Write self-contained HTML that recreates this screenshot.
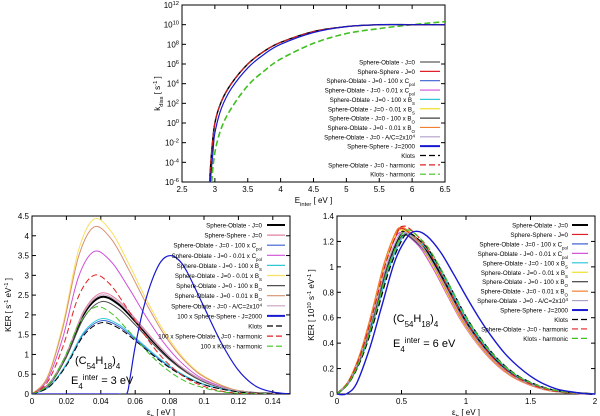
<!DOCTYPE html>
<html><head><meta charset="utf-8"><style>
html,body{margin:0;padding:0;background:#fff;width:600px;height:416px;overflow:hidden}
svg{position:absolute;left:0;top:0;font-family:"Liberation Sans",sans-serif}
</style></head><body>
<svg id="c" width="600" height="416"></svg>
<script>
// ---------- DATA ----------
const topX_black=[2.92,2.95,3.0,3.1,3.25,3.5,3.75,4.0,4.5,5.0,5.5,6.0,6.5];
const topY_black=[-6,-3,0,2.2,4,6,7.3,8.2,9.3,9.8,10,10,10];
const topX_blue=[2.93,2.97,3.0,3.1,3.25,3.5,3.75,4.0,4.5,5.0,5.5,6.0,6.5];
const topY_blue=[-6,-3,-1,1.5,3.5,5.6,7,8,9.2,9.8,10,10,10];
const topX_green=[2.95,3.0,3.1,3.25,3.5,3.75,4.0,4.5,5.0,5.5,6.0,6.5];
const topY_green=[-6,-3,-0.5,1.5,3.8,5.3,6.5,8.1,9.1,9.6,10,10.3];
const topLegend=["Sphere-Oblate - J=0","Sphere-Sphere - J=0","Sphere-Oblate - J=0 - 100 x C_pol","Sphere-Oblate - J=0 - 0.01 x C_pol","Sphere-Oblate - J=0 - 100 x B_S","Sphere-Oblate - J=0 - 0.01 x B_S","Sphere-Oblate - J=0 - 100 x B_O","Sphere-Oblate - J=0 - 0.01 x B_O","Sphere-Oblate - J=0 - A/C=2x10^4","Sphere-Sphere - J=2000","Klots","Sphere-Oblate - J=0 - harmonic","Klots - harmonic"];
const leftShapeX=[0,0.01,0.02,0.03,0.04,0.05,0.06,0.07,0.08,0.09,0.10,0.11,0.12,0.13,0.14,0.15];
const leftShapeY=[0,0.1,0.4,0.82,1.0,0.93,0.75,0.55,0.37,0.23,0.13,0.07,0.03,0.01,0.002,0];
const leftPeaks=[2.45,2.55,1.85,3.6,1.9,4.42,2.33,4.22,2.5,0,1.8,3.0,2.2];
const leftBlueX=[0,0.02,0.04,0.05,0.055,0.057,0.06,0.065,0.07,0.075,0.08,0.085,0.09,0.10,0.11,0.12,0.13,0.14,0.15];
const leftBlueY=[0,0,0,0,0,0.4,1.2,2.2,2.9,3.35,3.5,3.4,3.1,2.2,1.3,0.6,0.2,0.05,0];
const leftLegend=["Sphere-Oblate - J=0","Sphere-Sphere - J=0","Sphere-Oblate - J=0 - 100 x C_pol","Sphere-Oblate - J=0 - 0.01 x C_pol","Sphere-Oblate - J=0 - 100 x B_S","Sphere-Oblate - J=0 - 0.01 x B_S","Sphere-Oblate - J=0 - 100 x B_O","Sphere-Oblate - J=0 - 0.01 x B_O","Sphere-Oblate - J=0 - A/C=2x10^4","100 x Sphere-Sphere - J=2000","Klots","100 x Sphere-Oblate - J=0 - harmonic","100 x Klots - harmonic"];
const rightShapeX=[0,0.1,0.2,0.3,0.4,0.5,0.55,0.6,0.7,0.8,0.9,1.0,1.1,1.2,1.3,1.4,1.5,1.6,1.7,1.8,1.9,2.0];
const rightShapeY=[0,0.08,0.25,0.5,0.78,0.97,1,0.98,0.9,0.77,0.62,0.47,0.35,0.25,0.17,0.11,0.07,0.04,0.02,0.01,0.004,0];
const rightPeaks=[1.28,1.3,1.26,1.27,1.26,1.29,1.25,1.31,1.27,0,1.26,1.32,1.29];
const rightPeakPos=[0.53,0.5,0.55,0.5,0.55,0.5,0.53,0.5,0.52,0,0.56,0.52,0.55];
const rightBlueX=[0,0.07,0.15,0.25,0.35,0.45,0.55,0.62,0.7,0.8,0.9,1.0,1.1,1.2,1.3,1.4,1.5,1.6,1.7,1.8,1.9,2.0];
const rightBlueY=[0,0,0.08,0.35,0.7,1.05,1.24,1.28,1.24,1.12,0.95,0.77,0.6,0.45,0.32,0.22,0.14,0.08,0.04,0.02,0.005,0];
const rightLegend=topLegend;
const seriesColors=["#000","#e0202a","#3a5fd0","#d050d8","#30c8d8","#f0e030","#404040","#f08030","#b0a0c8","#1818d0","#000","#e02020","#40c020"];
const seriesDash=[0,0,0,0,0,0,0,0,0,0,1,1,1];
const leftColors=["#000","#e080a0","#3a5fd0","#d050d8","#30c8d8","#f8e060","#505050","#d89070","#c8a0c0","#1818d0","#000","#e02020","#40c020"];

// ---------- DRAW ----------
const NS="http://www.w3.org/2000/svg";
const svg=document.getElementById('c');
function el(tag,attrs,parent){const e=document.createElementNS(NS,tag);for(const k in attrs)e.setAttribute(k,attrs[k]);(parent||svg).appendChild(e);return e;}
function txt(x,y,s,size,anchor,parent,name){
  const t=el('text',{x:x,y:y,'font-size':size,'text-anchor':anchor||'middle',fill:'#000'},parent);
  const parts=s.split(/(_\{[^}]*\}|\^\{[^}]*\}|_[A-Za-z]+|\^[0-9\-]+)/);
  parts.forEach(p=>{if(!p)return;const sp=document.createElementNS(NS,'tspan');
    let c=p.slice(1);if(c[0]=='{')c=c.slice(1,-1);
    if(p[0]=='_'){sp.setAttribute('baseline-shift','sub');sp.setAttribute('font-size',size*0.72);sp.textContent=c;}
    else if(p[0]=='^'){sp.setAttribute('baseline-shift','super');sp.setAttribute('font-size',size*0.72);sp.textContent=c;}
    else sp.textContent=p;t.appendChild(sp);});
  
  
  return t;}
function path(pts,color,w,dash,parent,name){
  let d='M'+pts[0][0].toFixed(1)+','+pts[0][1].toFixed(1);
  for(let i=0;i<pts.length-1;i++){
    const p0=pts[Math.max(0,i-1)],p1=pts[i],p2=pts[i+1],p3=pts[Math.min(pts.length-1,i+2)];
    const c1=[p1[0]+(p2[0]-p0[0])/6,p1[1]+(p2[1]-p0[1])/6],c2=[p2[0]-(p3[0]-p1[0])/6,p2[1]-(p3[1]-p1[1])/6];
    d+='C'+c1[0].toFixed(1)+','+c1[1].toFixed(1)+' '+c2[0].toFixed(1)+','+c2[1].toFixed(1)+' '+p2[0].toFixed(1)+','+p2[1].toFixed(1);}
  const p=el('path',{d:d,fill:'none',stroke:color,'stroke-width':w,'stroke-dasharray':dash?'6,3':'none','stroke-linejoin':'round'},parent);
  
  
  return p;}
function frame(x0,y0,x1,y1,name){
  const g=el('g',{});
  const r=el('rect',{x:x0,y:y0,width:x1-x0,height:y1-y0,fill:'none',stroke:'#000','stroke-width':1},g);
  
  return g;}
function legend(g,labels,colors,dashes,xTextRight,x0,x1,y0,dy,size){
  labels.forEach((l,i)=>{const y=y0+i*dy;
    txt(xTextRight,y+2.5,l,size,'end',g,'legend-label');
    const ln=el('line',{x1:x0,y1:y,x2:x1,y2:y,stroke:colors[i],'stroke-width':(i==0||i==9)?2:1.2,'stroke-dasharray':dashes[i]?'6,3':'none'},g);
    });}

// ===== Top plot =====
(function(){
  const X0=182,X1=445,Y0=5,Y1=182;
  const sx=v=>X0+(v-2.5)/4*(X1-X0), sy=v=>Y1-(v+6)/18*(Y1-Y0);
  const g=frame(X0,Y0,X1,Y1,'top-plot');
  for(let v=2.5;v<=6.5001;v+=0.5){const x=sx(v);el('line',{x1:x,y1:Y1,x2:x,y2:Y1-4,stroke:'#000'},g);el('line',{x1:x,y1:Y0,x2:x,y2:Y0+4,stroke:'#000'},g);
    txt(x,Y1+10,String(+v.toFixed(1)),8,'middle',g,'x-tick-label');}
  for(let v=-6;v<=12;v+=2){const y=sy(v);el('line',{x1:X0,y1:y,x2:X0+4,y2:y,stroke:'#000'},g);el('line',{x1:X1,y1:y,x2:X1-4,y2:y,stroke:'#000'},g);
    txt(X0-3,y+3,'10^{'+v+'}',8,'end',g,'y-tick-label');}
  txt((X0+X1)/2,Y1+21,'E_{inter}  [ eV ]',8,'middle',g,'x-axis-title');
  const yt=txt(0,0,'k_{diss}  [ s^{-1} ]',8,'middle',g,'y-axis-title');yt.setAttribute('transform','translate(160,'+((Y0+Y1)/2)+') rotate(-90)');
  const cl=el('clipPath',{id:'ct'});el('rect',{x:X0,y:Y0,width:X1-X0,height:Y1-Y0},cl);
  const pg=el('g',{'clip-path':'url(#ct)'},g);
  const mk=(xs,ys)=>xs.map((x,i)=>[sx(x),sy(ys[i])]);
  path(mk(topX_green,topY_green),'#40c020',1.6,1,pg,'series-klots-harmonic');
  path(mk(topX_black,topY_black),'#f08030',1,0,pg,'series-sphere-oblate-variants');
  path(mk(topX_black,topY_black),'#000',1.4,0,pg,'series-sphere-oblate-j0');
  path(mk(topX_black,topY_black),'#e02020',1,1,pg,'series-harmonic');
  path(mk(topX_blue,topY_blue),'#1818d0',1.2,0,pg,'series-sphere-sphere-j2000');
  legend(g,topLegend,["#999"].concat(seriesColors.slice(1)),seriesDash,415,420,440,62,9.35,6.2);
})();

// ===== Bottom-left =====
(function(){
  const X0=32,X1=290,Y0=216,Y1=394;
  const sx=v=>X0+v/0.15*(X1-X0), sy=v=>Y1-v/4.5*(Y1-Y0);
  const g=frame(X0,Y0,X1,Y1,'bottom-left-plot');
  for(let i=0;i<=7;i++){const v=i*0.02,x=sx(v);el('line',{x1:x,y1:Y1,x2:x,y2:Y1-4,stroke:'#000'},g);el('line',{x1:x,y1:Y0,x2:x,y2:Y0+4,stroke:'#000'},g);
    txt(x,Y1+10,String(+v.toFixed(2)),8,'middle',g,'x-tick-label');}
  for(let i=0;i<=9;i++){const v=i*0.5,y=sy(v);el('line',{x1:X0,y1:y,x2:X0+4,y2:y,stroke:'#000'},g);el('line',{x1:X1,y1:y,x2:X1-4,y2:y,stroke:'#000'},g);
    txt(X0-3,y+3,String(v),8,'end',g,'y-tick-label');}
  txt((X0+X1)/2,Y1+21,'ε_{tr}  [ eV ]',8,'middle',g,'x-axis-title');
  const yt=txt(0,0,'KER [ s^{-1} eV^{-1} ]',8,'middle',g,'y-axis-title');yt.setAttribute('transform','translate(11,'+((Y0+Y1)/2)+') rotate(-90)');
  const cl=el('clipPath',{id:'cl'});el('rect',{x:X0,y:Y0,width:X1-X0,height:Y1-Y0},cl);
  const pg=el('g',{'clip-path':'url(#cl)'},g);
  leftPeaks.forEach((pk,i)=>{if(i==9)return;
    const shift=pk>2.6?-0.004:(i==12?-0.003:0);
    const decay=(i==12||i==11)?0.9:1;
    const pts=leftShapeX.map((x,j)=>{const xx=x<=0.04?x*(0.04+shift)/0.04:(0.04+shift)+(x-0.04)*decay;return [sx(xx),sy(leftShapeY[j]*pk)];});
    path(pts,leftColors[i],(i==0)?2:1,seriesDash[i],pg,'series-'+i);});
  path(leftBlueX.map((x,j)=>[sx(x),sy(leftBlueY[j])]),'#1818d0',1.2,0,pg,'series-sphere-sphere-j2000');
  legend(g,leftLegend,leftColors,seriesDash,262,267,285,225,10.1,6.2);
  txt(75,364,'(C_{54}H_{18})_{4}',11,'start',g,'molecule-annotation');
  txt(71,384,'E_{4}^{inter} = 3 eV',11,'start',g,'energy-annotation');
})();

// ===== Bottom-right =====
(function(){
  const X0=337,X1=595,Y0=216,Y1=394;
  const sx=v=>X0+v/2*(X1-X0), sy=v=>Y1-v/1.4*(Y1-Y0);
  const g=frame(X0,Y0,X1,Y1,'bottom-right-plot');
  for(let i=0;i<=4;i++){const v=i*0.5,x=sx(v);el('line',{x1:x,y1:Y1,x2:x,y2:Y1-4,stroke:'#000'},g);el('line',{x1:x,y1:Y0,x2:x,y2:Y0+4,stroke:'#000'},g);
    txt(x,Y1+10,String(v),8,'middle',g,'x-tick-label');}
  for(let i=0;i<=7;i++){const v=i*0.2,y=sy(v);el('line',{x1:X0,y1:y,x2:X0+4,y2:y,stroke:'#000'},g);el('line',{x1:X1,y1:y,x2:X1-4,y2:y,stroke:'#000'},g);
    txt(X0-3,y+3,String(+v.toFixed(1)),8,'end',g,'y-tick-label');}
  txt((X0+X1)/2,Y1+21,'ε_{tr}  [ eV ]',8,'middle',g,'x-axis-title');
  const yt=txt(0,0,'KER [ 10^{10} s^{-1} eV^{-1} ]',8,'middle',g,'y-axis-title');yt.setAttribute('transform','translate(314,'+((Y0+Y1)/2)+') rotate(-90)');
  rightPeaks.forEach((pk,i)=>{if(i==9)return;
    const r=rightPeakPos[i]/0.55;
    const pts=rightShapeX.map((x,j)=>[sx(Math.min(2,x*(x<=0.55?r:1)+(x>0.55?rightPeakPos[i]-0.55:0))),sy(rightShapeY[j]*pk)]);
    path(pts,seriesColors[i],(i==0)?2:1.2,seriesDash[i],g,'series-'+i);});
  path(rightBlueX.map((x,j)=>[sx(x),sy(rightBlueY[j])]),'#1818d0',1.4,0,g,'series-sphere-sphere-j2000');
  legend(g,rightLegend,seriesColors,seriesDash,568,572,588,225,9.45,6.2);
  txt(393,322,'(C_{54}H_{18})_{4}',11,'start',g,'molecule-annotation');
  txt(393,347,'E_{4}^{inter} = 6 eV',11,'start',g,'energy-annotation');
})();
</script>
</body></html>
